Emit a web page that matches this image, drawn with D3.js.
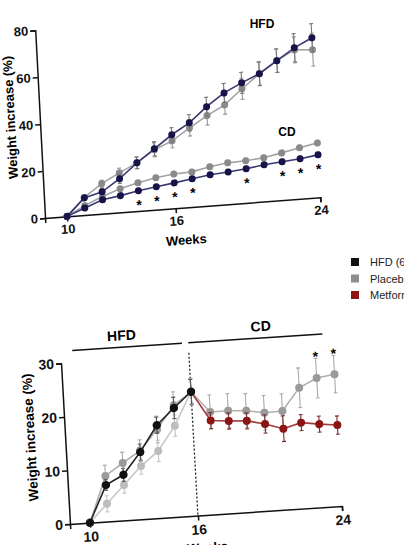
<!DOCTYPE html>
<html>
<head>
<meta charset="utf-8">
<script src="https://cdn.jsdelivr.net/npm/d3@7"></script>
<style>
body { margin: 0; background: #fff; }
svg { font-family: "Liberation Sans", Arial, sans-serif; }
.axis path, .axis line { stroke: #111; stroke-width: 1.5; }
.axis text { font-weight: bold; fill: #111; }
</style>
</head>
<body>
<svg id="fig" width="404" height="545"></svg>
<script>
// ---- top panel data (weeks 10..24)
var topWeeks = [10, 11, 12, 13, 14, 15, 16, 17, 18, 19, 20, 21, 22, 23, 24];
var hfdNavy = [0, 7.3, 9.3, 14.3, 20.5, 25.9, 31.3, 35.8, 42.1, 47.4, 51.1, 54.4, 59.4, 64.3, 68.0];
var hfdNavyErr = [0, 1, 1.5, 2, 2.5, 3, 3, 3.5, 4, 4, 4.5, 5, 5, 6, 6];
var hfdGray = [0, 7.5, 12.8, 16.8, 20.5, 25.5, 28.7, 33.7, 38.3, 42.3, 48.6, 54.4, 59.4, 63.4, 62.9];
var hfdGrayErr = [0, 1, 1.5, 2, 2.5, 3, 3, 3.5, 4, 4, 4.5, 5, 5, 5.5, 7];
var cdNavy = [0, 3.0, 5.9, 7.1, 8.6, 9.7, 10.8, 12.0, 13.1, 13.7, 14.5, 15.6, 16.3, 17.0, 18.1];
var cdGray = [0, 4.0, 7.3, 10.0, 12.0, 13.6, 14.6, 14.9, 16.5, 17.6, 17.9, 18.6, 20.1, 21.7, 23.2];
var cdErr = [0, 0.6, 0.7, 0.7, 0.8, 0.8, 0.8, 0.9, 0.9, 0.9, 1, 1, 1, 1, 1];
var topStars = [14, 15, 16, 17, 20, 22, 23, 24];
var topTicksX = [10, 16, 24];
var topTicksY = [0, 20, 40, 60, 80];

// ---- bottom panel data
var hfdWeeks = [10, 11, 12, 13, 14, 15, 16];
var hfd6 = [0, 6.8, 8.5, 12.5, 17.3, 20.3, 23.1];
var hfd6Err = [0, 1, 1.2, 1.5, 1.5, 2, 2.3];
var allWeeks = [10, 11, 12, 13, 14, 15, 16, 17, 18, 19, 20, 21, 22, 23, 24];
var placebo = [0, 8.5, 10.7, 12.8, 16.5, 20.8, 23.1, 19.1, 19.1, 18.9, 18.3, 18.4, 22.5, 24.1, 24.6];
var placeboErr = [0, 2, 2, 2, 2.5, 2.5, 2.5, 3.2, 3.2, 3.2, 3.2, 3.2, 3.7, 3.7, 3.5];
var metformin = [0, 3.3, 6.6, 9.9, 12.5, 17.0, 23.1, 17.5, 17.2, 17.0, 16.2, 15.1, 16.0, 15.5, 15.1];
var metforminErr = [0, 1.5, 1.5, 1.5, 2, 2, 2.3, 1.5, 1.5, 1.5, 1.7, 2.4, 1.5, 1.5, 1.7];
var bottomStars = [23, 24];
var bottomTicksX = [10, 16, 24];
var bottomTicksY = [0, 10, 20, 30];
var phases = [{ label: "HFD", from: 9.55, to: 15.65 }, { label: "CD", from: 16, to: 23.45 }];
var switchWeek = 16;

var legendNames = ["HFD (6 weeks)", "Placebo", "Metformin"];
var legendColors = ["#111111", "#8e8e8e", "#8b1414"];

var svg = d3.select("#fig");

function drawSeries(g, x, y, weeks, vals, errs, o) {
  var pts = weeks.map(function (w, i) { return { w: w, v: vals[i], e: errs ? errs[i] : 0 }; });
  var line = d3.line().x(function (d) { return x(d.w); }).y(function (d) { return y(d.v); });
  var segs = o.split ? [pts.filter(function (d) { return d.w <= o.split; }), pts.filter(function (d) { return d.w >= o.split; })]
                     : [pts];
  segs.forEach(function (s, k) {
    g.append("path").datum(s).attr("d", line)
      .attr("fill", "none").attr("stroke", k == 0 ? o.line : o.line2).attr("stroke-width", 1.6);
  });
  var eb = g.append("g").selectAll("g").data(pts.filter(function (d) { return d.e > 0; })).enter().append("g")
    .attr("stroke", function (d) { return o.split && d.w > o.split ? o.err2 : o.err; })
    .attr("stroke-width", 1.1);
  eb.append("line").attr("x1", function (d) { return x(d.w); }).attr("x2", function (d) { return x(d.w); })
    .attr("y1", function (d) { return y(d.v - d.e); }).attr("y2", function (d) { return y(d.v + d.e); });
  [-1, 1].forEach(function (s) {
    eb.append("line").attr("x1", function (d) { return x(d.w) - 2; }).attr("x2", function (d) { return x(d.w) + 2; })
      .attr("y1", function (d) { return y(d.v + s * d.e); }).attr("y2", function (d) { return y(d.v + s * d.e); });
  });
  g.append("g").selectAll("circle").data(pts).enter().append("circle")
    .attr("cx", function (d) { return x(d.w); }).attr("cy", function (d) { return y(d.v); })
    .attr("r", o.r)
    .attr("fill", function (d) { return o.split && d.w > o.split ? o.dot2 : o.dot; });
}

// ================= top panel
var W1 = 276, H1 = 188;
var g1 = svg.append("g").attr("transform", "matrix(0.9972,-0.075,0.0523,0.9986,35.2,30.3)");
var x1 = d3.scaleLinear().domain([8.78, 24]).range([0, W1]);
var y1 = d3.scaleLinear().domain([0, 80]).range([H1, 0]);

g1.append("g").attr("class", "axis").attr("transform", "translate(0," + H1 + ")")
  .call(d3.axisBottom(x1).tickValues(topTicksX).tickSizeOuter(0).tickSize(5).tickPadding(3))
  .selectAll("text").style("font-size", "13px");
g1.append("g").attr("class", "axis")
  .call(d3.axisLeft(y1).tickValues(topTicksY).tickSizeOuter(0).tickSize(5).tickPadding(2))
  .selectAll("text").style("font-size", "13px");

drawSeries(g1, x1, y1, topWeeks, cdGray, cdErr, { line: "#a3a3a3", dot: "#8a8a8a", err: "#999", r: 3.5 });
drawSeries(g1, x1, y1, topWeeks, cdNavy, cdErr, { line: "#3a3670", dot: "#17144a", err: "#666", r: 3.5 });
drawSeries(g1, x1, y1, topWeeks, hfdGray, hfdGrayErr, { line: "#a3a3a3", dot: "#8a8a8a", err: "#999", r: 3.5 });
drawSeries(g1, x1, y1, topWeeks, hfdNavy, hfdNavyErr, { line: "#3a3670", dot: "#17144a", err: "#777", r: 3.5 });

g1.selectAll(".star").data(topStars).enter().append("text")
  .attr("x", function (d) { return x1(d); })
  .attr("y", function (d) { return y1(cdNavy[topWeeks.indexOf(d)]) + 19; })
  .attr("text-anchor", "middle").style("font-size", "14px").style("font-weight", "bold").text("*");

g1.append("text").attr("x", 140).attr("y", 225).attr("text-anchor", "middle")
  .style("font-size", "13px").style("font-weight", "bold").text("Weeks");
g1.append("text").attr("transform", "translate(-29.5,85) rotate(-90)").attr("dy", "0.35em")
  .attr("text-anchor", "middle").style("font-size", "13px").style("font-weight", "bold").text("Weight increase (%)");

svg.append("text").attr("x", 262).attr("y", 28).attr("text-anchor", "middle")
  .style("font-size", "12px").style("font-weight", "bold").text("HFD");
svg.append("text").attr("x", 287).attr("y", 136).attr("text-anchor", "middle")
  .style("font-size", "12px").style("font-weight", "bold").text("CD");

// ================= legend
var lg = svg.append("g").selectAll("g").data(legendNames).enter().append("g")
  .attr("transform", function (d, i) { return "translate(351," + (258 + i * 16.5) + ")"; });
lg.append("rect").attr("width", 8).attr("height", 8).attr("fill", function (d, i) { return legendColors[i]; });
lg.append("text").attr("x", 19).attr("y", 8).style("font-size", "11px").attr("fill", "#222").text(function (d) { return d; });

// ================= bottom panel
var W2 = 272.5, H2 = 161;
var g2 = svg.append("g").attr("transform", "matrix(0.9978,-0.0663,0.0558,0.9984,61.0,363.3)");
var x2 = d3.scaleLinear().domain([8.89, 24]).range([0, W2]);
var y2 = d3.scaleLinear().domain([0, 30]).range([H2, 0]);

g2.append("g").attr("class", "axis").attr("transform", "translate(0," + H2 + ")")
  .call(d3.axisBottom(x2).tickValues(bottomTicksX).tickSizeOuter(0).tickSize(5).tickPadding(4))
  .selectAll("text").style("font-size", "14px");
g2.append("g").attr("class", "axis")
  .call(d3.axisLeft(y2).tickValues(bottomTicksY).tickSizeOuter(0).tickSize(5).tickPadding(2))
  .selectAll("text").style("font-size", "14px");

g2.append("line").attr("x1", x2(switchWeek)).attr("x2", x2(switchWeek))
  .attr("y1", -2).attr("y2", H2)
  .attr("stroke", "#222").attr("stroke-width", 1.3).attr("stroke-dasharray", "2,2");

phases.forEach(function (p) {
  g2.append("line").attr("x1", x2(p.from)).attr("x2", x2(p.to)).attr("y1", -12).attr("y2", -12)
    .attr("stroke", "#111").attr("stroke-width", 1.5);
  g2.append("text").attr("x", (x2(p.from) + x2(p.to)) / 2 + (p.label == "CD" ? 6 : -5)).attr("y", -19)
    .attr("text-anchor", "middle").style("font-size", "14px").style("font-weight", "bold").text(p.label);
});

drawSeries(g2, x2, y2, allWeeks, placebo, placeboErr, { line: "#b0b0b0", dot: "#9a9a9a", err: "#aaa", r: 4 });
drawSeries(g2, x2, y2, allWeeks, metformin, metforminErr,
  { split: switchWeek, line: "#c8c8c8", line2: "#a33a3a", dot: "#bdbdbd", dot2: "#8b1414", err: "#c4c4c4", err2: "#7a2a2a", r: 4 });
drawSeries(g2, x2, y2, hfdWeeks, hfd6, hfd6Err, { line: "#222", dot: "#111", err: "#555", r: 4.2 });

g2.selectAll(".star").data(bottomStars).enter().append("text")
  .attr("x", function (d) { return x2(d); })
  .attr("y", function (d) { var i = allWeeks.indexOf(d); return y2(placebo[i] + placeboErr[i]) + 3; })
  .attr("text-anchor", "middle").style("font-size", "14px").style("font-weight", "bold").text("*");

g2.append("text").attr("x", 136).attr("y", 198).attr("text-anchor", "middle")
  .style("font-size", "13px").style("font-weight", "bold").text("Weeks");
g2.append("text").attr("transform", "translate(-35,72) rotate(-90)").attr("dy", "0.35em")
  .attr("text-anchor", "middle").style("font-size", "13.5px").style("font-weight", "bold").text("Weight increase (%)");
</script>
</body>
</html>
